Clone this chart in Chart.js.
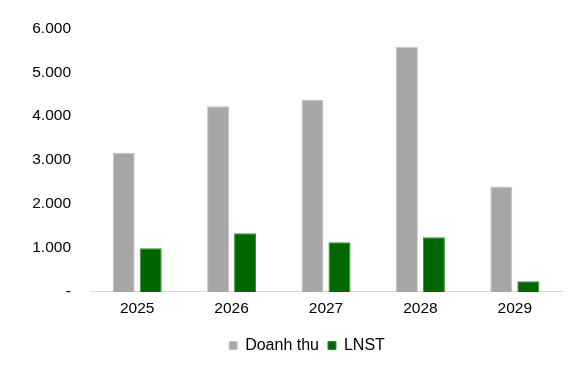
<!DOCTYPE html>
<html>
<head>
<meta charset="utf-8">
<script src="https://cdn.jsdelivr.net/npm/chart.js@4.4.1/dist/chart.umd.min.js"></script>
<style>
html,body{margin:0;padding:0;background:#fff;}
#wrap{width:588px;height:380px;position:relative;}
</style>
</head>
<body>
<div id="wrap"><canvas id="c" width="588" height="380"></canvas></div>
<script>
const categories = ["2025", "2026", "2027", "2028", "2029"];
const doanhThu = [3170, 4225, 4370, 5580, 2400];
const lnst = [995, 1336, 1130, 1245, 245];
const yTicks = [0, 1000, 2000, 3000, 4000, 5000, 6000];

function fmt(v){
  if (v === 0) return "-";
  return Math.round(v).toString().replace(/\B(?=(\d{3})+(?!\d))/g, ".");
}

const FAMILY = "'Liberation Sans', Arial, sans-serif";
const TICKFONT = {family: FAMILY, size: 15.5};
const LEGFONT = {family: FAMILY, size: 16};

const shiftLegend = {
  id: "shiftLegend",
  afterLayout(chart){
    const lg = chart.legend;
    if (!lg) return;
    const dx = 26, dy = 2;
    lg.left += dx; lg.right += dx;
    lg.top += dy; lg.bottom += dy;
    if (lg.legendHitBoxes) lg.legendHitBoxes.forEach(b => { b.left += dx; b.top += dy; });
  }
};

new Chart(document.getElementById("c"), {
  type: "bar",
  data: {
    labels: categories,
    datasets: [
      {label: "Doanh thu", data: doanhThu, backgroundColor: "#A6A6A6", borderColor: "#C4C4C4", borderWidth: 1},
      {label: "LNST", data: lnst, backgroundColor: "#006600", borderColor: "#2E8B2E", borderWidth: 1}
    ]
  },
  plugins: [shiftLegend],
  options: {
    responsive: false,
    animation: false,
    devicePixelRatio: 1,
    layout: {padding: {left: 0, right: 26, top: 27, bottom: 18.5}},
    datasets: {bar: {categoryPercentage: 0.572, barPercentage: 0.815}},
    plugins: {
      legend: {
        position: "bottom",
        labels: {boxWidth: 8, boxHeight: 8, padding: 9, color: "#000", font: LEGFONT}
      },
      tooltip: {enabled: false}
    },
    scales: {
      x: {
        grid: {display: false, drawTicks: false},
        border: {display: true, color: "#D9D9D9", width: 1},
        ticks: {color: "#000", font: TICKFONT, padding: 8}
      },
      y: {
        min: 0, max: 6000,
        afterFit: s => { s.width = 90; },
        afterBuildTicks: s => { s.ticks = yTicks.map(v => ({value: v})); },
        grid: {display: false, drawTicks: false},
        border: {display: false},
        ticks: {color: "#000", font: TICKFONT, padding: 19, callback: v => fmt(v)}
      }
    }
  }
});
</script>
</body>
</html>
